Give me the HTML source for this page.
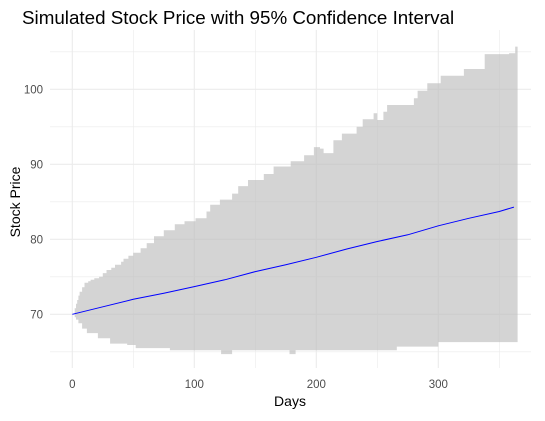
<!DOCTYPE html>
<html><head><meta charset="utf-8"><style>
body{margin:0;background:#fff;font-family:"Liberation Sans",sans-serif}
svg text{font-family:"Liberation Sans",sans-serif}
</style></head><body>
<svg id="chart" width="545" height="416">
<text x="22" y="24" font-size="18.8" fill="#000">Simulated Stock Price with 95% Confidence Interval</text>
<text x="290" y="406" font-size="14" text-anchor="middle" fill="#000">Days</text>
<text transform="translate(20,202) rotate(-90)" font-size="14" text-anchor="middle" fill="#000">Stock Price</text>
<g id="grid"></g><g id="marks"></g><g id="ticks"></g>
</svg>
<script>
const upperDays=[0,2,3,4,5,6,8,10,13,15,18,22,25,28,32,35,40,42,46,50,56,61,67,75,84,92,101,110,113,121,131,136,144,157,165,179,190,198,203,206,214,221,233,238,247,250,255,258,272,280,283,291,302,321,338,358,363,365];
const upperVals=[70,70.8,71.4,71.9,72.5,73,73.6,74.2,74.4,74.6,74.8,75,75.5,75.9,76.2,76.6,77,77.4,77.8,78.2,78.8,79.5,80.4,81.2,82,82.4,82.8,83.7,84.6,85.3,86.1,87.1,87.9,88.7,89.7,90.4,91.2,92.3,92.1,91.5,93.2,94.1,95,96,96.8,95.9,97,97.9,97.9,98.8,99.8,100.8,101.8,102.7,104.7,104.8,105.7,105.7];
const lowerDays=[0,2,3,5,8,12,21,31,45,52,80,122,131,150,178,183,240,266,300,365];
const lowerVals=[70,69.6,69.3,68.8,68.1,67.5,66.8,66.1,65.9,65.5,65.2,64.7,65.2,65.2,64.7,65.2,65.2,65.7,66.3,66.3];
const meanDays=[0,25,50,75,100,125,150,175,200,225,250,275,300,325,350,362];
const meanVals=[70,71,72,72.8,73.7,74.6,75.7,76.6,77.6,78.7,79.7,80.6,81.8,82.8,83.7,84.3];
const xTicks=[0,100,200,300];
const yTicks=[70,80,90,100];
const NS='http://www.w3.org/2000/svg';
const X0=50,X1=531,Y0=30,Y1=368;
const xs=d=>72.3+d*1.22;
const ys=v=>314.3-(v-70)*7.5;
function mk(tag,attrs,parent){const e=document.createElementNS(NS,tag);for(const k in attrs)e.setAttribute(k,attrs[k]);parent.appendChild(e);return e;}
const grid=document.getElementById('grid'),marks=document.getElementById('marks'),ticks=document.getElementById('ticks');
for(let v=65;v<=105;v+=5){
  const l=mk('line',{x1:X0,x2:X1,y1:ys(v),y2:ys(v),stroke:'#ebebeb','stroke-width':v%10===0?1.1:0.6},grid);
  
  
}
for(let d=0;d<=350;d+=50){
  const l=mk('line',{x1:xs(d),x2:xs(d),y1:Y0,y2:Y1,stroke:'#ebebeb','stroke-width':d%100===0?1.1:0.6},grid);
  
  
}
function stepPts(days,vals){const p=[];for(let i=0;i<days.length;i++){if(i>0)p.push([xs(days[i]),ys(vals[i-1])]);p.push([xs(days[i]),ys(vals[i])]);}return p;}
const up=stepPts(upperDays,upperVals),lo=stepPts(lowerDays,lowerVals).reverse();
const band=mk('path',{d:'M'+up.concat(lo).map(p=>p[0].toFixed(1)+','+p[1].toFixed(1)).join('L')+'Z',fill:'#bebebe','fill-opacity':0.66},marks);


const line=mk('polyline',{points:meanDays.map((d,i)=>xs(d).toFixed(1)+','+ys(meanVals[i]).toFixed(1)).join(' '),fill:'none',stroke:'#0000ff','stroke-width':1},marks);


xTicks.forEach(t=>{
  const e=mk('text',{x:xs(t),y:388,'font-size':11.5,'text-anchor':'middle',fill:'#4d4d4d'},ticks);e.textContent=t;
  
  
});
yTicks.forEach(t=>{
  const e=mk('text',{x:43,y:ys(t)+4,'font-size':11.5,'text-anchor':'end',fill:'#4d4d4d'},ticks);e.textContent=t;
  
  
});
</script>
</body></html>
